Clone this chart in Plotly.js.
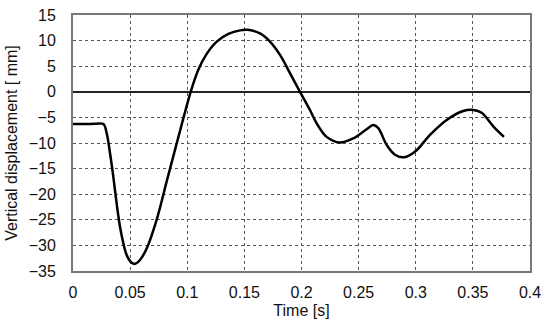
<!DOCTYPE html>
<html>
<head>
<meta charset="utf-8">
<script src="https://cdn.plot.ly/plotly-3.0.1.min.js"></script>
<style>html,body{margin:0;padding:0;background:#fff;}#chart{width:550px;height:328px;}</style>
</head>
<body>
<div id="chart"></div>
<script>
const time = [0, 0.01, 0.02, 0.0266, 0.0295, 0.0324, 0.0353, 0.0382, 0.0411, 0.0441, 0.047, 0.0514, 0.0543, 0.0586, 0.0645, 0.0732, 0.082, 0.0878, 0.0937, 0.098, 0.103, 0.1097, 0.117, 0.1258, 0.136, 0.1462, 0.153, 0.1637, 0.1724, 0.1812, 0.19, 0.1987, 0.2074, 0.2133, 0.222, 0.2337, 0.2453, 0.257, 0.2628, 0.2672, 0.2746, 0.2818, 0.2891, 0.2993, 0.3125, 0.3271, 0.3416, 0.3504, 0.3577, 0.368, 0.3772];
const displacement = [-6.3, -6.3, -6.25, -6.3, -8.1, -12.0, -16.6, -21.8, -26.3, -29.6, -31.9, -33.4, -33.6, -32.85, -30.6, -25.0, -17.5, -12.6, -7.6, -4.0, 0, 4.3, 7.4, 9.8, 11.3, 12.0, 12.1, 11.4, 9.8, 7.2, 3.6, 0, -3.55, -6.15, -8.8, -9.9, -9.1, -7.3, -6.5, -7.1, -10.4, -12.3, -12.8, -11.7, -8.4, -5.5, -3.75, -3.55, -4.1, -6.8, -8.8];
const xTicks = [0, 0.05, 0.1, 0.15, 0.2, 0.25, 0.3, 0.35, 0.4];
const xTickLabels = ['0', '0.05', '0.1', '0.15', '0.2', '0.25', '0.3', '0.35', '0.4'];
const yTicks = [-35, -30, -25, -20, -15, -10, -5, 0, 5, 10, 15];

const font = {family: 'Liberation Sans, Arial, sans-serif', size: 16, color: '#111'};
Plotly.newPlot('chart', [{
  x: time, y: displacement, mode: 'lines', type: 'scatter',
  line: {color: '#000', width: 2.5, shape: 'spline', smoothing: 1.0, simplify: false},
  hoverinfo: 'skip'
}], {
  width: 550, height: 328,
  margin: {l: 73, r: 20, t: 15, b: 57},
  paper_bgcolor: '#fff', plot_bgcolor: '#fff',
  showlegend: false,
  font: font,
  xaxis: {
    range: [0, 0.4], tickvals: xTicks, ticktext: xTickLabels,
    showgrid: true, gridcolor: '#555', griddash: 'dot', gridwidth: 1,
    zeroline: false, showline: true, linecolor: '#777', linewidth: 2, mirror: true,
    ticks: '', ticklabelstandoff: 6, tickfont: font,
    title: {text: 'Time [s]', font: font, standoff: 5}
  },
  yaxis: {
    range: [-35, 15], tickvals: yTicks,
    showgrid: true, gridcolor: '#555', griddash: 'dot', gridwidth: 1,
    zeroline: true, zerolinecolor: '#222', zerolinewidth: 1.5,
    showline: true, linecolor: '#777', linewidth: 2, mirror: true,
    ticks: '', ticklabelstandoff: 12, tickfont: font,
    title: {text: 'Vertical displacement [ mm]', font: font, standoff: 7}
  }
}, {staticPlot: true, displayModeBar: false});
</script>
</body>
</html>
